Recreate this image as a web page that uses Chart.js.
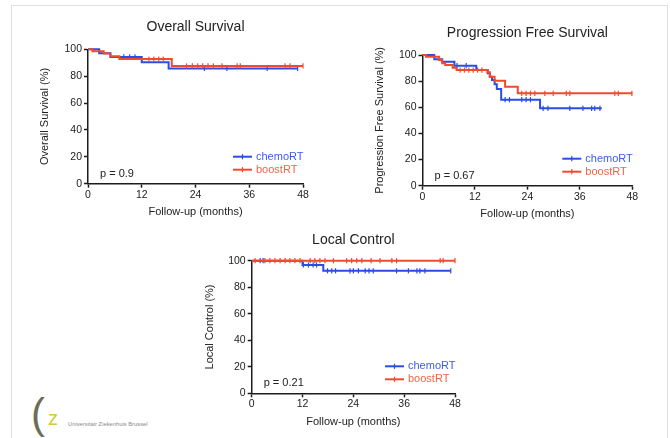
<!DOCTYPE html>
<html>
<head>
<meta charset="utf-8">
<script src="https://cdn.jsdelivr.net/npm/chart.js@4.4.0/dist/chart.umd.min.js"></script>
<style>
body{margin:0;background:#fff;width:670px;height:438px;overflow:hidden;position:relative;font-family:"Liberation Sans",Arial,sans-serif}
canvas{position:absolute}
#frame{position:absolute;left:11px;top:5px;width:655px;height:460px;border:1px solid #e0e0e0}
#logo{position:absolute;left:30px;top:398px;width:130px;height:38px}
#logo .u{position:absolute;left:1px;top:-8px;font-size:42px;color:#6e6e58;font-weight:300}
#logo .z{position:absolute;left:18px;top:9px;font-size:20px;color:#c9cf3c}
#logo .t{position:absolute;left:38px;top:23px;font-size:5.8px;color:#8a8a8a;white-space:nowrap}
</style>
</head>
<body>
<div id="frame"></div>
<canvas id="osChart" width="335" height="222" style="left:0;top:0"></canvas>
<canvas id="pfsChart" width="335" height="222" style="left:335px;top:0"></canvas>
<canvas id="lcChart" width="335" height="220" style="left:167px;top:210px"></canvas>
<div id="logo"><span class="u">(</span><span class="z">z</span><span class="t">Universitair Ziekenhuis Brussel</span></div>
<script>
"use strict"
//kaplan-meier curves -> three stepped line charts

var groups = ["chemoRT", "boostRT"];
var xTicks = [0, 12, 24, 36, 48];
var yTicks = [0, 20, 40, 60, 80, 100];
var titles = ["Overall Survival", "Progression Free Survival", "Local Control"];
var yTitles = ["Overall Survival (%)", "Progression Free Survival (%)", "Local Control (%)"];
var pValues = ["0.9", "0.67", "0.21"];

//overall survival (time in months, survival %)
var osChemoT = [0, 2.5, 5, 12, 18, 46.8];
var osChemoS = [100, 97, 94.3, 90.3, 85.8, 85.8];
var osChemoCens = [8, 9.3, 10.5, 26, 31, 40, 46.8];
var osBoostT = [0, 1, 3.5, 5, 7, 18.7, 48];
var osBoostS = [100, 98.5, 96.8, 94.8, 92.8, 87.6, 87.6];
var osBoostCens = [13.6, 14.7, 15.8, 16.8, 22, 23.3, 24.5, 25.6, 26.8, 28, 29.9, 33.3, 34, 44, 45.1, 48];

//progression free survival
var pfsChemoT = [0, 2.7, 4.5, 7.3, 12.3, 14.9, 15.4, 15.9, 16.5, 17, 18, 26.9, 41];
var pfsChemoS = [100, 96.7, 94.9, 91.8, 88.5, 86, 83.4, 80.9, 77.6, 74, 65.8, 59.2, 59.2];
var pfsChemoCens = [7.9, 10, 18.9, 19.9, 22.7, 23.7, 24.7, 27.6, 28.7, 33.7, 36.7, 38.7, 39.4, 40.6];
var pfsBoostT = [0, 0.8, 3.8, 4.5, 5.2, 6.9, 7.8, 14.9, 15.4, 16.5, 18.9, 21.8, 48];
var pfsBoostS = [100, 98.7, 96.2, 93.6, 92.3, 90.3, 88.5, 86.8, 83.4, 80.3, 75.8, 70.7, 70.7];
var pfsBoostCens = [8.6, 9.6, 10.6, 11.6, 12.6, 13.6, 22.7, 23.7, 24.7, 25.7, 28, 29.9, 32.9, 33.7, 44, 44.8, 47.9];

//local control
var lcChemoT = [0, 12, 16.9, 47];
var lcChemoS = [100, 96.8, 92.4, 92.4];
var lcChemoCens = [2, 2.7, 12.2, 13.4, 14.5, 15.3, 17.9, 18.9, 19.8, 23.2, 24, 25.2, 26.8, 27.7, 28.7, 34.2, 37, 39, 39.7, 40.9, 47];
var lcBoostT = [0, 48];
var lcBoostS = [100, 100];
var lcBoostCens = [0.8, 3.1, 4.3, 5.5, 6.7, 7.9, 9, 10.2, 11.4, 13.8, 14.9, 16.1, 17.3, 19.3, 22.4, 23.6, 24.8, 26, 28.2, 30.3, 33.1, 34.2, 44.5, 45.2, 48];

var blue = "#2a4de6", red = "#f24a2c";
var blueText = "#3b5ce8", redText = "#f0654a";
var fontFam = '"Liberation Sans", Arial, sans-serif';

function stepAt(T, S, t) {//survival value at time t
  var v = S[0];
  for (var i = 0; i < T.length; i++) { if (T[i] <= t) v = S[i]; }
  return v;
}

function curve(T, S) {
  return T.map(function(t, i) { return {x: t, y: S[i]}; });
}

function marks(T, S, C) {
  return C.map(function(t) { return {x: t, y: stepAt(T, S, t)}; });
}

function kmSets(cT, cS, cC, bT, bS, bC) {
  var line = {stepped: true, borderWidth: 2, pointRadius: 0, fill: false, clip: false};
  var cens = {showLine: false, pointStyle: "line", rotation: 90, pointRadius: 2.6, borderWidth: 1.2, clip: false};
  return [
    Object.assign({label: groups[1], data: curve(bT, bS), borderColor: red}, line),
    Object.assign({label: groups[1] + " censored", data: marks(bT, bS, bC), borderColor: red, backgroundColor: red}, cens),
    Object.assign({label: groups[0], data: curve(cT, cS), borderColor: blue}, line),
    Object.assign({label: groups[0] + " censored", data: marks(cT, cS, cC), borderColor: blue, backgroundColor: blue}, cens)
  ];
}

//legend + p value inside the plot area
var kmLegend = {
  id: "kmLegend",
  afterDatasetsDraw: function(chart, args, opts) {
    var ctx = chart.ctx, a = chart.chartArea;
    ctx.save();
    ctx.font = "11px " + fontFam;
    ctx.textBaseline = "middle";
    var rows = [[groups[0], blue, blueText], [groups[1], red, redText]];
    rows.forEach(function(r, i) {
      var y = a.bottom - 27 + i * 13;
      var x0 = a.right - 70;
      ctx.strokeStyle = r[1];
      ctx.lineWidth = 2;
      ctx.beginPath(); ctx.moveTo(x0, y); ctx.lineTo(x0 + 19, y); ctx.stroke();
      ctx.lineWidth = 1.2;
      ctx.beginPath(); ctx.moveTo(x0 + 9.5, y - 2.6); ctx.lineTo(x0 + 9.5, y + 2.6); ctx.stroke();
      ctx.fillStyle = r[2];
      ctx.fillText(r[0], a.right - 47, y);
    });
    ctx.fillStyle = "#222";
    ctx.fillText("p = " + opts.p, a.left + 12, a.bottom - 10);
    ctx.restore();
  }
};

function makeChart(id, idx, sets, lay) {
  var axisCol = "#1c1c1c";
  return new Chart(document.getElementById(id), {
    type: "line",
    data: {datasets: sets},
    options: {
      responsive: false,
      animation: false,
      devicePixelRatio: 1,
      layout: {padding: {left: lay.left, right: lay.right, top: 0, bottom: 0}},
      plugins: {
        legend: {display: false},
        tooltip: {enabled: false},
        title: {
          display: true, text: titles[idx], fullSize: false, color: "#222",
          font: {family: fontFam, size: 14, weight: "normal"},
          padding: {top: lay.tTop, bottom: lay.tBot}
        },
        kmLegend: {p: pValues[idx]}
      },
      scales: {
        x: {
          type: "linear", min: 0, max: 48,
          afterBuildTicks: function(s) { s.ticks = xTicks.map(function(v) { return {value: v}; }); },
          afterFit: function(s) { s.height = lay.xH; },
          border: {color: axisCol, width: 1.5},
          grid: {drawOnChartArea: false, drawTicks: true, tickLength: 4, tickColor: axisCol, tickWidth: 1.5},
          ticks: {color: "#222", padding: 1, font: {family: fontFam, size: 10.5}, maxRotation: 0},
          title: {display: true, text: "Follow-up (months)", color: "#222", font: {family: fontFam, size: 11}, padding: {top: 0, bottom: lay.xTB}}
        },
        y: {
          min: 0, max: 100,
          afterBuildTicks: function(s) { s.ticks = yTicks.map(function(v) { return {value: v}; }); },
          afterFit: function(s) { s.width = lay.yW; },
          border: {color: axisCol, width: 1.5},
          grid: {drawOnChartArea: false, drawTicks: true, tickLength: 4, tickColor: axisCol, tickWidth: 1.5},
          ticks: {color: "#222", padding: 2, font: {family: fontFam, size: 10.5}},
          title: {display: true, text: yTitles[idx], color: "#222", font: {family: fontFam, size: 11}, padding: {top: 0, bottom: 0}}
        }
      }
    },
    plugins: [kmLegend]
  });
}

makeChart("osChart", 0, kmSets(osChemoT, osChemoS, osChemoCens, osBoostT, osBoostS, osBoostCens),
  {left: 38, right: 32, tTop: 19, tBot: 13.5, yW: 50, xH: 38.3, xTB: 3});
makeChart("pfsChart", 1, kmSets(pfsChemoT, pfsChemoS, pfsChemoCens, pfsBoostT, pfsBoostS, pfsBoostCens),
  {left: 38, right: 37.7, tTop: 25, tBot: 13.2, yW: 49.5, xH: 36.3, xTB: 1});
makeChart("lcChart", 2, kmSets(lcChemoT, lcChemoS, lcChemoCens, lcBoostT, lcBoostS, lcBoostCens),
  {left: 36.4, right: 47, tTop: 21.6, tBot: 12.3, yW: 48.3, xH: 36.7, xTB: 1.7});
</script>
</body>
</html>
